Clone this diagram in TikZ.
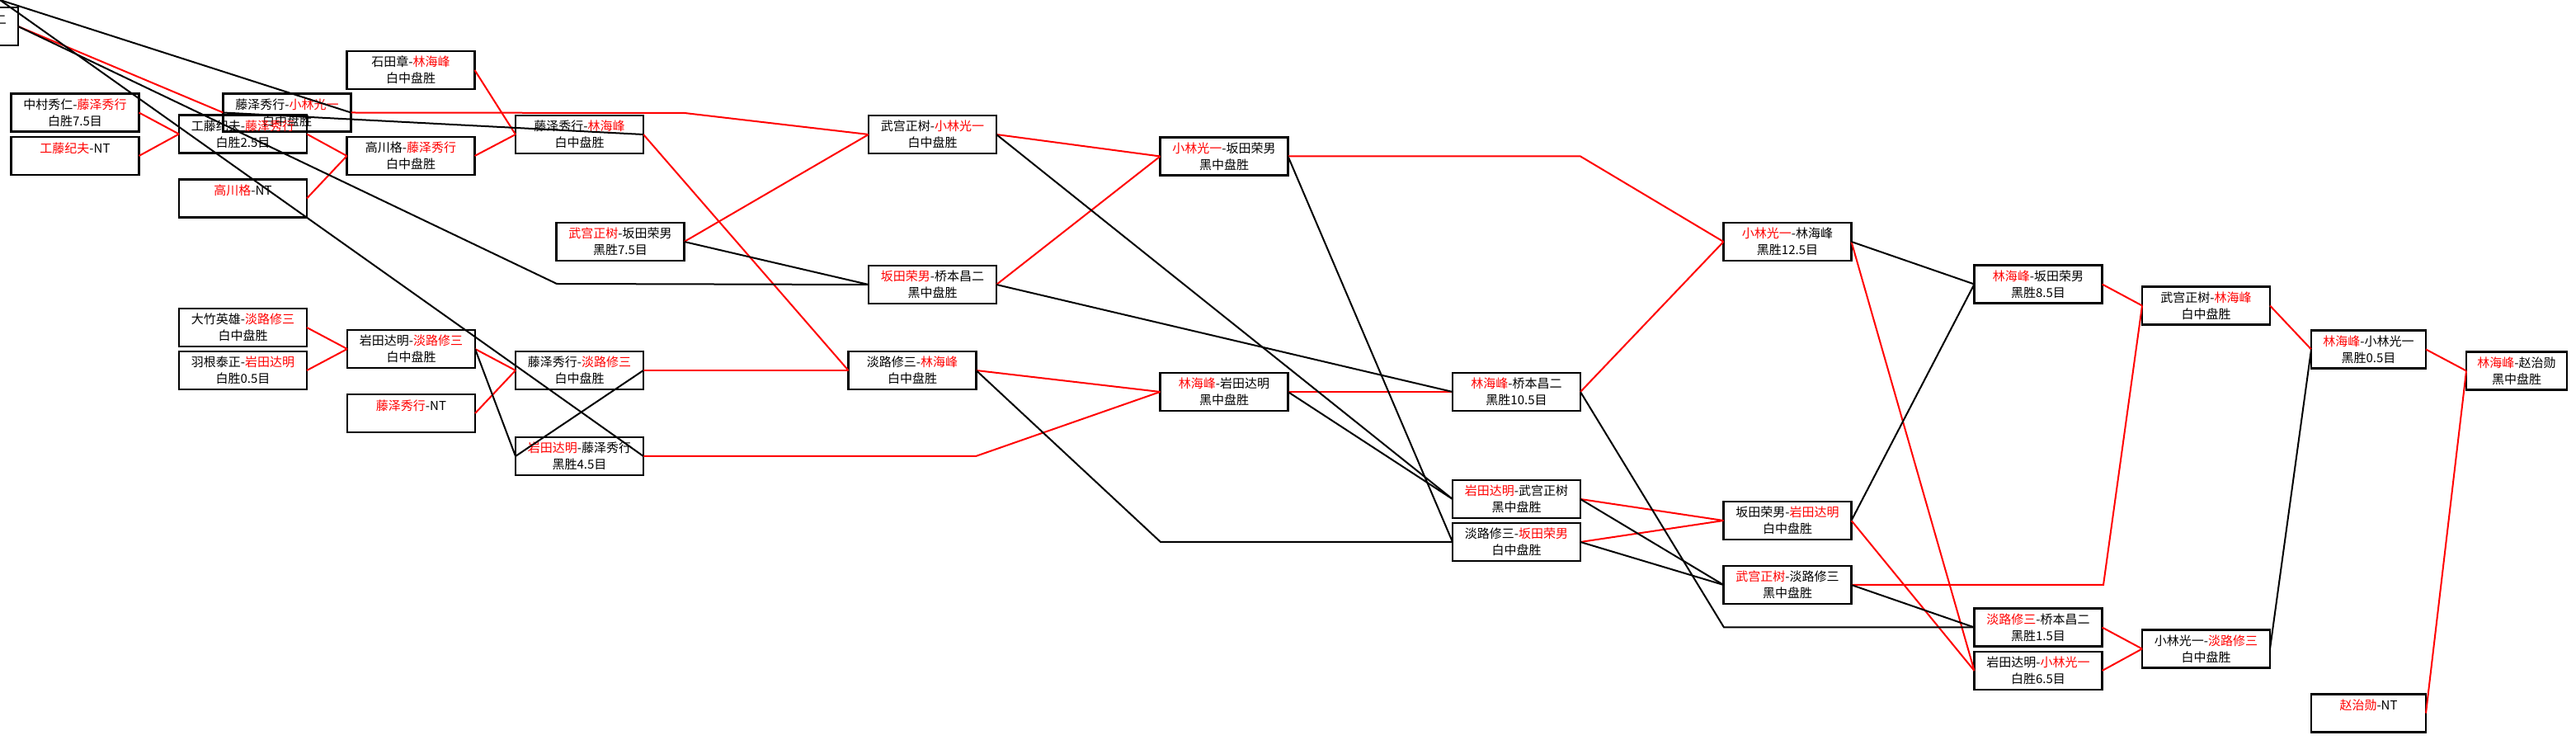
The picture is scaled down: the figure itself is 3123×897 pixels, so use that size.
\documentclass[tikz,border=0pt]{standalone}
\usepackage{fontspec}
\usepackage{tikz}
\usetikzlibrary{calc}
\newfontfamily\cjk{Noto Sans CJK SC}
\newcommand{\wn}[1]{\textcolor{red}{#1}}

\begin{document}
\begin{tikzpicture}[x=0.5pt,y=-0.5pt,
    match/.style={draw, line width=1.25pt, minimum width=77.5pt, minimum height=23pt, inner sep=1pt, outer sep=0pt, align=center, font=\cjk\fontsize{7.5}{10}\selectfont},
    win/.style={draw=red, line width=1pt},
    lose/.style={draw=black, line width=1pt}]
            \useasboundingbox (0,0) rectangle (3123,897);
            \clip (0,0) rectangle (3123,897);
            \coordinate (Corner) at (0,0);
            \node[match] (Tl) at (-55.5,32) {};
            \node[font=\cjk\fontsize{7.5}{10}\selectfont, inner sep=0pt] (TlText) at (0.5,24) {二};
            \node[match] (NkFj) at (91,136.5) {中村秀仁-\wn{藤泽秀行}\\白胜7.5目};
            \node[match] (KdNt) at (91,189) {\wn{工藤纪夫}-NT\\\mbox{}};
            \node[match] (FjKb) at (348,136.5) {藤泽秀行-\wn{小林光一}\\白中盘胜};
            \node[match] (KdFj) at (294.5,162.5) {工藤纪夫-\wn{藤泽秀行}\\白胜2.5目};
            \node[match] (TkNt) at (294.5,240.5) {\wn{高川格}-NT\\\mbox{}};
            \node[match] (IsRn) at (498,85) {石田章-\wn{林海峰}\\白中盘胜};
            \node[match] (TkFj) at (498,189) {高川格-\wn{藤泽秀行}\\白中盘胜};
            \node[match] (FjRn) at (702.5,163) {藤泽秀行-\wn{林海峰}\\白中盘胜};
            \node[match] (TmSk) at (752,293) {\wn{武宫正树}-坂田荣男\\黑胜7.5目};
            \node[match] (OtAw) at (294.5,397) {大竹英雄-\wn{淡路修三}\\白中盘胜};
            \node[match] (HnIw) at (294.5,449) {羽根泰正-\wn{岩田达明}\\白胜0.5目};
            \node[match] (IwAw) at (498.5,423) {岩田达明-\wn{淡路修三}\\白中盘胜};
            \node[match] (FjNt) at (498.5,501) {\wn{藤泽秀行}-NT\\\mbox{}};
            \node[match] (FjAw) at (702.5,449) {藤泽秀行-\wn{淡路修三}\\白中盘胜};
            \node[match] (IwFj) at (702.5,553) {\wn{岩田达明}-藤泽秀行\\黑胜4.5目};
            \node[match] (TmKb) at (1130.5,163) {武宫正树-\wn{小林光一}\\白中盘胜};
            \node[match] (SkHs) at (1130.5,345) {\wn{坂田荣男}-桥本昌二\\黑中盘胜};
            \node[match] (AwRn) at (1106,449) {淡路修三-\wn{林海峰}\\白中盘胜};
            \node[match] (KbSk) at (1484,189.5) {\wn{小林光一}-坂田荣男\\黑中盘胜};
            \node[match] (RnIw) at (1484,475) {\wn{林海峰}-岩田达明\\黑中盘胜};
            \node[match] (RnHs) at (1838.5,475) {\wn{林海峰}-桥本昌二\\黑胜10.5目};
            \node[match] (IwTm) at (1838.5,605) {\wn{岩田达明}-武宫正树\\黑中盘胜};
            \node[match] (AwSk) at (1838.5,657) {淡路修三-\wn{坂田荣男}\\白中盘胜};
            \node[match] (KbRn) at (2167,293) {\wn{小林光一}-林海峰\\黑胜12.5目};
            \node[match] (SkIw) at (2167,631) {坂田荣男-\wn{岩田达明}\\白中盘胜};
            \node[match] (TmAw) at (2167,709) {\wn{武宫正树}-淡路修三\\黑中盘胜};
            \node[match] (RnSk) at (2471,344.5) {\wn{林海峰}-坂田荣男\\黑胜8.5目};
            \node[match] (AwHs) at (2471,760.5) {\wn{淡路修三}-桥本昌二\\黑胜1.5目};
            \node[match] (IwKb) at (2471,813) {岩田达明-\wn{小林光一}\\白胜6.5目};
            \node[match] (TmRn) at (2674.5,370.5) {武宫正树-\wn{林海峰}\\白中盘胜};
            \node[match] (KbAw) at (2674.5,786.5) {小林光一-\wn{淡路修三}\\白中盘胜};
            \node[match, minimum width=69.5pt] (RnKb) at (2871.5,423.5) {\wn{林海峰}-小林光一\\黑胜0.5目};
            \node[match, minimum width=61pt] (RnZh) at (3051,449.5) {\wn{林海峰}-赵治勋\\黑中盘胜};
            \node[match, minimum width=69.5pt] (ZhNt) at (2871.5,864.5) {\wn{赵治勋}-NT\\\mbox{}};
            \draw[win] (Tl.east) -- (FjKb.west);
            \draw[win] (NkFj.east) -- (KdFj.west);
            \draw[win] (KdNt.east) -- (KdFj.west);
            \draw[win] (KdFj.east) -- (TkFj.west);
            \draw[win] (TkNt.east) -- (TkFj.west);
            \draw[win] (IsRn.east) -- (FjRn.west);
            \draw[win] (TkFj.east) -- (FjRn.west);
            \draw[win] (FjKb.east) -- (830,137) -- (TmKb.west);
            \draw[win] (TmSk.east) -- (TmKb.west);
            \draw[win] (OtAw.east) -- (IwAw.west);
            \draw[win] (HnIw.east) -- (IwAw.west);
            \draw[win] (IwAw.east) -- (FjAw.west);
            \draw[win] (FjNt.east) -- (FjAw.west);
            \draw[win] (FjRn.east) -- (AwRn.west);
            \draw[win] (FjAw.east) -- (AwRn.west);
            \draw[win] (IwFj.east) -- (1183,553) -- (RnIw.west);
            \draw[win] (AwRn.east) -- (RnIw.west);
            \draw[win] (TmKb.east) -- (KbSk.west);
            \draw[win] (SkHs.east) -- (KbSk.west);
            \draw[win] (KbSk.east) -- (1916,189.5) -- (KbRn.west);
            \draw[win] (RnIw.east) -- (RnHs.west);
            \draw[win] (RnHs.east) -- (KbRn.west);
            \draw[win] (IwTm.east) -- (SkIw.west);
            \draw[win] (AwSk.east) -- (SkIw.west);
            \draw[win] (KbRn.east) -- (IwKb.west);
            \draw[win] (SkIw.east) -- (IwKb.west);
            \draw[win] (RnSk.east) -- (TmRn.west);
            \draw[win] (TmAw.east) -- (2550,709) -- (TmRn.west);
            \draw[win] (AwHs.east) -- (KbAw.west);
            \draw[win] (IwKb.east) -- (KbAw.west);
            \draw[win] (TmRn.east) -- (RnKb.west);
            \draw[win] (RnKb.east) -- (RnZh.west);
            \draw[win] (ZhNt.east) -- (RnZh.west);
            \draw[lose] (Corner) -- (FjKb.east);
            \draw[lose] (Tl.east) -- (675,344) -- (SkHs.west);
            \draw[lose] (Corner) -- (IwFj.east);
            \draw[lose] (FjKb.west) -- (FjRn.east);
            \draw[lose] (IwAw.east) -- (IwFj.west);
            \draw[lose] (IwFj.west) -- (FjAw.east);
            \draw[lose] (TmSk.east) -- (SkHs.west);
            \draw[lose] (TmKb.east) -- (IwTm.west);
            \draw[lose] (SkHs.east) -- (RnHs.west);
            \draw[lose] (AwRn.east) -- (1407,657) -- (AwSk.west);
            \draw[lose] (KbSk.east) -- (AwSk.west);
            \draw[lose] (RnIw.east) -- (IwTm.west);
            \draw[lose] (KbRn.east) -- (RnSk.west);
            \draw[lose] (RnHs.east) -- (2090,760.5) -- (AwHs.west);
            \draw[lose] (IwTm.east) -- (TmAw.west);
            \draw[lose] (AwSk.east) -- (TmAw.west);
            \draw[lose] (TmAw.east) -- (AwHs.west);
            \draw[lose] (SkIw.east) -- (RnSk.west);
            \draw[lose] (KbAw.east) -- (RnKb.west);
        \end{tikzpicture}
\end{document}
